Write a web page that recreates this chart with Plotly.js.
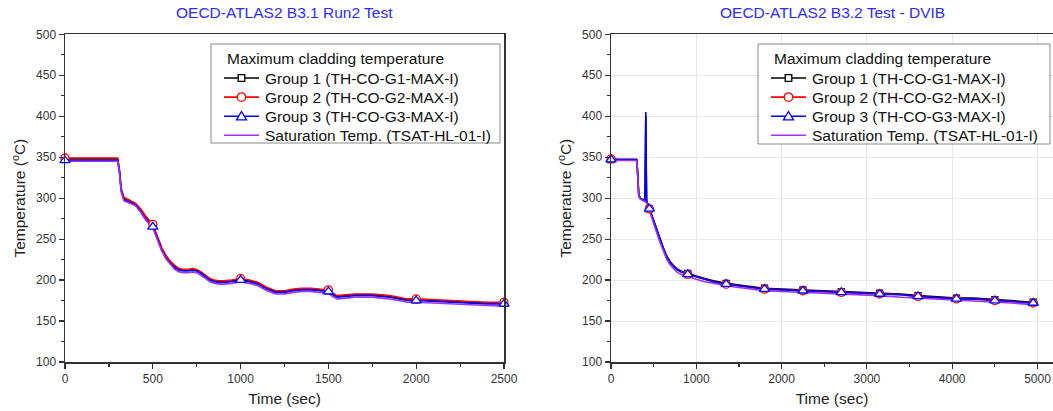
<!DOCTYPE html>
<html>
<head>
<meta charset="utf-8">
<script src="https://cdn.plot.ly/plotly-3.0.1.min.js"></script>
<style>html,body{margin:0;padding:0;background:#fff;}#chart{width:1053px;height:411px;}</style>
</head>
<body>
<div id="chart"></div>
<script>
// ---------- Left chart: OECD-ATLAS2 B3.1 Run2 Test ----------
const titleL = "OECD-ATLAS2 B3.1 Run2 Test";
const tL = [0,100,200,300,310,320,335,360,400,430,460,500,525,550,575,600,625,650,675,700,725,750,775,800,825,850,875,900,950,1000,1050,1100,1150,1200,1250,1300,1350,1400,1450,1500,1525,1550,1600,1650,1700,1750,1800,1850,1900,1950,2000,2100,2200,2300,2400,2500];
const g1L = [348,348,348,348,334,311,300,297,293,286,277,267,254,239,229,222,217,213,212,212,213,212,209,205,201,199,198,198,199,201,199,196,190,186,186,188,189,189,188,187,183,180,181,182,182,182,181,180,178,176,176,175,174,173,172,172];
const g2L = [349,349,349,349,335,312,301,298,294,287,278,268,255,240,230,223,218,214,213,213,214,213,210,206,202,200,199,199,200,202,200,197,191,187,187,189,190,190,189,188,184,181,182,183,183,183,182,181,179,177,177,176,175,174,173,173];
const g3L = [346,346,346,346,332,309,298,296,292,284,274,265,251,237,227,220,215,212,211,211,212,211,208,204,200,198,197,197,198,200,198,195,189,185,185,187,188,188,187,186,182,179,180,181,181,181,180,179,177,175,175,174,173,172,171,171];
const satL = [345,345,345,345,331,308,297,295,291,283,273,264,250,236,226,219,213,210,209,209,210,209,206,202,198,196,195,195,196,198,196,193,187,183,183,185,186,186,185,184,180,177,178,179,179,179,178,177,175,173,173,172,171,170,169,168];
const markTL = [0,500,1000,1500,2000,2500];

// ---------- Right chart: OECD-ATLAS2 B3.2 Test - DVIB ----------
const titleR = "OECD-ATLAS2 B3.2 Test - DVIB";
const tR = [0,100,200,300,310,325,340,360,380,395,400,405,408,412,418,430,450,475,500,535,575,615,650,690,730,770,820,900,1000,1100,1200,1350,1500,1650,1800,2000,2250,2500,2700,2900,3150,3400,3600,3800,4050,4250,4500,4700,4950,5000];
const g1R = [347,347,347,347,335,305,300,299,298,297,310,390,400,340,296,293,287,279,271,262,250,239,230,223,218,214,211,208,205,202,199,196,194,192,190,189,188,187,186,185,184,183,181,180,178,178,176,175,173,173];
const g2R = [348,347,347,347,335,305,300,299,298,297,298,298,298,297,296,293,287,279,271,261,249,238,229,222,217,213,210,207,204,201,198,195,193,191,189,188,187,186,185,184,183,182,180,179,177,177,175,174,172,172];
const g3R = [347,347,347,347,335,305,300,299,298,297,320,380,405,350,296,293,287,279,271,261,249,238,229,222,217,213,210,207,204,201,198,195,193,191,189,188,187,186,185,184,183,182,180,179,177,177,175,174,172,172];
const satR = [346,346,346,346,333,303,299,298,297,296,296,296,296,295,294,291,285,277,268,258,246,235,226,219,214,210,207,204,201,198,196,193,191,189,187,186,185,184,183,182,181,179,178,177,175,174,173,172,170,170];
const markTR = [0,450,900,1350,1800,2250,2700,3150,3600,4050,4500,4950];

const legendTitle = "Maximum cladding temperature";
const names = ["Group 1 (TH-CO-G1-MAX-I)","Group 2 (TH-CO-G2-MAX-I)","Group 3 (TH-CO-G3-MAX-I)","Saturation Temp. (TSAT-HL-01-I)"];
const xTitle = "Time (sec)";
const yTitle = "Temperature (<sup>o</sup>C)";
const xTicksL = [0,500,1000,1500,2000,2500];
const xTicksR = [0,1000,2000,3000,4000,5000];
const yTicks = [100,150,200,250,300,350,400,450,500];

// ---------- styles ----------
const FONT = '"Liberation Sans", Arial, sans-serif';
const colors = ["#000000","#ff0000","#0000ff","#9933ff"];
const symbols = ["square","circle","triangle-up",null];
const msize = [6,8,9,0];
const W=1053, H=411;

function buildTraces(t, series, markT, xa, ya){
  const traces = [];
  series.forEach((s,i)=>{
    traces.push({x:t, y:s, type:'scatter', mode:'lines', xaxis:xa, yaxis:ya,
      line:{color:colors[i], width:1.6}, showlegend:false, hoverinfo:'skip'});
  });
  series.forEach((s,i)=>{
    if(!symbols[i]) return;
    const mx = [], my = [];
    markT.forEach(m=>{ const k=t.indexOf(m); if(k>=0){mx.push(t[k]); my.push(s[k]);} });
    traces.push({x:mx, y:my, type:'scatter', mode:'markers', xaxis:xa, yaxis:ya,
      marker:{symbol:symbols[i], size:msize[i], color:'#ffffff', line:{color:colors[i], width:1.3}},
      showlegend:false, hoverinfo:'skip', cliponaxis:false});
  });
  return traces;
}

const data = [].concat(
  buildTraces(tL,[g1L,g2L,g3L,satL],markTL,'x','y'),
  buildTraces(tR,[g1R,g2R,g3R,satR],markTR,'x2','y2')
);

// ---------- custom legend boxes (pixel layout -> paper coords) ----------
const px = v => v / W, py = v => 1 - v / H;
const shapes = [], annotations = [];
function addLegend(left, top, right, bottom){
  shapes.push({type:'rect', xref:'paper', yref:'paper', x0:px(left), x1:px(right), y0:py(top), y1:py(bottom),
    line:{color:'#8a8a8a', width:1}, fillcolor:'#ffffff', layer:'above'});
  annotations.push({text:legendTitle, xref:'paper', yref:'paper', x:px(left+14), y:py(top+14.5), xanchor:'left', yanchor:'middle',
    showarrow:false, font:{family:FONT, size:15.5, color:'#111'}});
  names.forEach((nm,i)=>{
    const cy = top + 34 + i*19.1;
    const lx0 = left+13, lx1 = left+48, mx = (lx0+lx1)/2;
    shapes.push({type:'line', xref:'paper', yref:'paper', x0:px(lx0), x1:px(lx1), y0:py(cy), y1:py(cy),
      line:{color:colors[i], width:1.6}, layer:'above'});
    const mk = {xref:'paper', yref:'paper', line:{color:colors[i], width:1.3}, fillcolor:'#ffffff', layer:'above'};
    if(symbols[i]==='square'){
      const r = 3.3;
      shapes.push(Object.assign({type:'rect', x0:px(mx-r), x1:px(mx+r), y0:py(cy-r), y1:py(cy+r)}, mk));
    } else if(symbols[i]==='circle'){
      const r = 4.3;
      shapes.push(Object.assign({type:'circle', x0:px(mx-r), x1:px(mx+r), y0:py(cy-r), y1:py(cy+r)}, mk));
    } else if(symbols[i]==='triangle-up'){
      const r = 5;
      const p = `M ${px(mx-r)} ${py(cy+r*0.75)} L ${px(mx+r)} ${py(cy+r*0.75)} L ${px(mx)} ${py(cy-r*0.95)} Z`;
      shapes.push(Object.assign({type:'path', path:p}, mk));
    }
    annotations.push({text:nm, xref:'paper', yref:'paper', x:px(left+52), y:py(cy), xanchor:'left', yanchor:'middle',
      showarrow:false, font:{family:FONT, size:15.5, color:'#111'}});
  });
}
addLegend(211, 44, 500, 143);
addLegend(758, 44, 1050, 144);

annotations.push(
  {text:titleL, xref:'paper', yref:'paper', x:px(284.5), y:py(13), xanchor:'center', yanchor:'middle', showarrow:false, font:{family:FONT, size:15.5, color:'#2b2bff'}},
  {text:titleR, xref:'paper', yref:'paper', x:px(832), y:py(13), xanchor:'center', yanchor:'middle', showarrow:false, font:{family:FONT, size:15.5, color:'#2b2bff'}}
);

const yTop = py(34.3), yBot = py(362);
const tickFont = {family:FONT, size:12, color:'#333333'};
const titleFont = {family:FONT, size:15.5, color:'#222222'};

function xaxis(dom, range, ticks, minorD, grid){
  return {domain:dom, range:range, tickvals:ticks, ticks:'outside', ticklen:5, tickwidth:1.2, tickcolor:'#333',
    minor:{ticks:'outside', ticklen:3, tickwidth:1.2, tickcolor:'#333', dtick:minorD, tick0:0, showgrid:false},
    showline:true, linecolor:'#333', linewidth:1.5, mirror:true, zeroline:false,
    showgrid:grid, gridcolor:'#e8e8e8', gridwidth:1,
    tickfont:tickFont, title:{text:xTitle, font:titleFont, standoff:8}, automargin:false};
}
function yaxis(anchor, grid, mirror){
  return {domain:[yBot,yTop], range:[100,500], anchor:anchor, tickvals:yTicks, ticks:'outside', ticklen:5, tickwidth:1.2, tickcolor:'#333',
    minor:{ticks:'outside', ticklen:3, tickwidth:1.2, tickcolor:'#333', dtick:25, tick0:0, showgrid:false},
    showline:true, linecolor:'#333', linewidth:1.5, mirror:mirror, zeroline:false,
    showgrid:grid, gridcolor:'#e8e8e8', gridwidth:1,
    tickfont:tickFont, title:{text:yTitle, font:titleFont, standoff:6}, automargin:false};
}

const layout = {
  width:W, height:H, margin:{l:0,r:0,t:0,b:0}, paper_bgcolor:'#fff', plot_bgcolor:'#fff',
  font:{family:FONT}, showlegend:false,
  xaxis: Object.assign(xaxis([px(65), px(504)],[0,2500],xTicksL,250,false), {anchor:'y'}),
  yaxis: yaxis('x', false, true),
  xaxis2: Object.assign(xaxis([px(611), 1],[0,5182],xTicksR,500,true), {anchor:'y2', mirror:true}),
  yaxis2: yaxis('x2', true, false),
  shapes: shapes,
  annotations: annotations
};

Plotly.newPlot('chart', data, layout, {staticPlot:true, displayModeBar:false});
</script>
</body>
</html>
